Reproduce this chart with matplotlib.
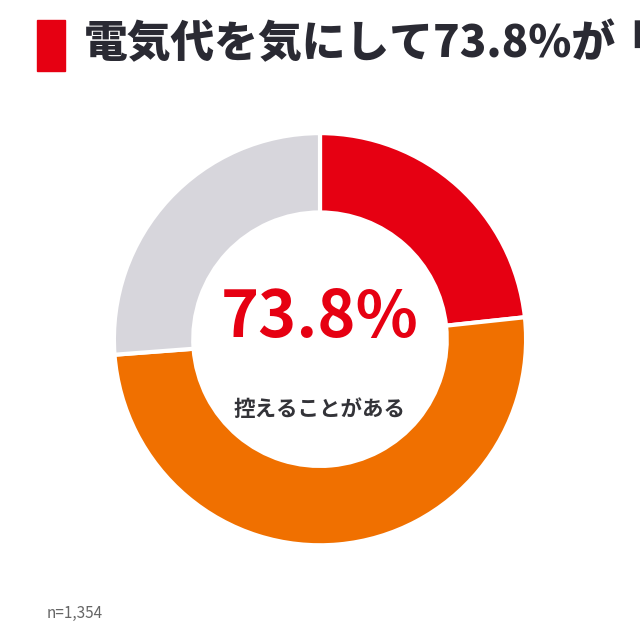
import matplotlib
matplotlib.use('Agg')
import matplotlib.pyplot as plt
from matplotlib.patches import Rectangle

plt.rcParams['font.family'] = ['Noto Sans CJK JP', 'DejaVu Sans']

# データ
labels = ['控えることがある(一部)', '控えることがある', '控えない']
values = [23.3, 50.5, 26.2]
colors = ['#E60012', '#F07000', '#D7D6DC']
title = '電気代を気にして73.8%が'
title_tail = '「'
center_value = '73.8%'
center_label = '控えることがある'
note = 'n=1,354'

fig = plt.figure(figsize=(6.4, 6.4), dpi=100)
fig.patch.set_facecolor('white')

# ドーナツ
ax = fig.add_axes([0.5 - 0.322, 0.470 - 0.322, 0.644, 0.644])
ax.pie(values, colors=colors, startangle=90, counterclock=False,
       radius=1.0, wedgeprops=dict(width=0.385, edgecolor='white', linewidth=3))
ax.set_xlim(-1, 1)
ax.set_ylim(-1, 1)
ax.set_aspect('equal')
ax.axis('off')

# タイトル
fig.patches.append(Rectangle((37 / 640, 1 - 71 / 640), 28 / 640, 51 / 640,
                             transform=fig.transFigure, color='#E60012'))
fig.text(84 / 640, 1 - 44 / 640, title, fontsize=31.5, fontweight='heavy',
         color='#2A2A33', va='center', ha='left')
# 画面端で切れている続き
fig.text(606 / 640, 1 - 44 / 640, title_tail, fontsize=31.5, fontweight='heavy',
         color='#2A2A33', va='center', ha='left')

# 中央のテキスト
fig.text(0.5, 1 - 318 / 640, center_value, fontsize=46.5, fontweight='bold',
         color='#E60012', ha='center', va='center')
fig.text(0.5, 1 - 409 / 640, center_label, fontsize=15.5, fontweight='bold',
         color='#333338', ha='center', va='center')

fig.text(47 / 640, 1 - 613 / 640, note, fontsize=11, color='#666666',
         ha='left', va='center')

fig.savefig('out.png', dpi=100)
